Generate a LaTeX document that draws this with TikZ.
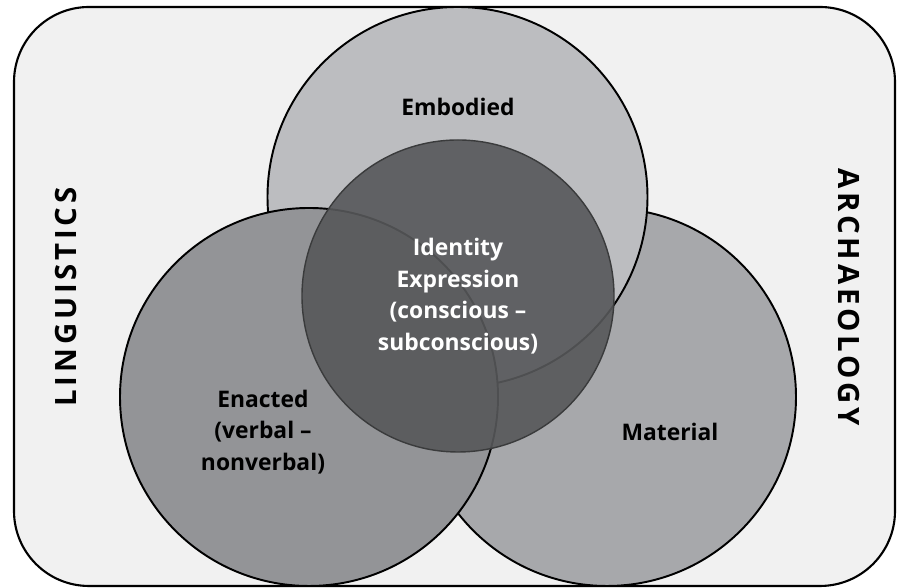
\documentclass[tikz,border=0pt]{standalone}
\usepackage{fontspec}
\setmainfont{Open Sans}
\newfontfamily\spacedfont[LetterSpace=13]{Open Sans}
\usepackage{xcolor}
\usepackage{tikz}
\usetikzlibrary{positioning}
\definecolor{panelbg}{HTML}{F1F1F1}
\definecolor{embodiedgray}{HTML}{BCBDC0}
\definecolor{enactedgray}{HTML}{939497}
\definecolor{materialgray}{HTML}{A7A8AB}
\definecolor{identitygray}{HTML}{57585A}
\definecolor{identityrim}{HTML}{3A3B3C}

\begin{document}
\begin{tikzpicture}[
    ring/.style={draw=black, line width=1.1pt},
    venntext/.style={font=\fontsize{13}{17.9}\selectfont\bfseries, align=center},
    sidetext/.style={font=\spacedfont\fontsize{16.7}{20}\selectfont\bfseries}
]
    \useasboundingbox (0,0) rectangle (17.94,11.76);

    % Panel
    \draw[fill=panelbg, line width=1.2pt, rounded corners=1.5cm] (0.28,0.04) rectangle (17.9,11.62);

    % Outer circles
    \draw[ring, fill=materialgray] (12.14,3.82) circle (3.78);
    \draw[ring, fill=embodiedgray] (9.15,7.82) circle (3.8);
    \draw[ring, fill=enactedgray] (6.18,3.82) circle (3.78);

    % Core circle (see-through)
    \draw[identityrim, line width=0.8pt, fill=identitygray, fill opacity=0.9] (9.16,5.84) circle (3.12);

    % Texts
    \node[venntext] (embodied) at (9.16,9.62) {Embodied};
    \node[venntext, white] (identity) at (9.16,5.84) {Identity\\Expression\\(conscious --\\subconscious)};
    \node[venntext] (enacted) at (5.26,3.12) {Enacted\\(verbal --\\nonverbal)};
    \node[venntext] (material) at (13.4,3.12) {Material};

    % Fields
    \node[sidetext, rotate=90] (linguistics) at (1.32,5.82) {LINGUISTICS};
    \node[sidetext, rotate=-90] (archaeology) at (16.98,5.82) {ARCHAEOLOGY};
\end{tikzpicture}
\end{document}
